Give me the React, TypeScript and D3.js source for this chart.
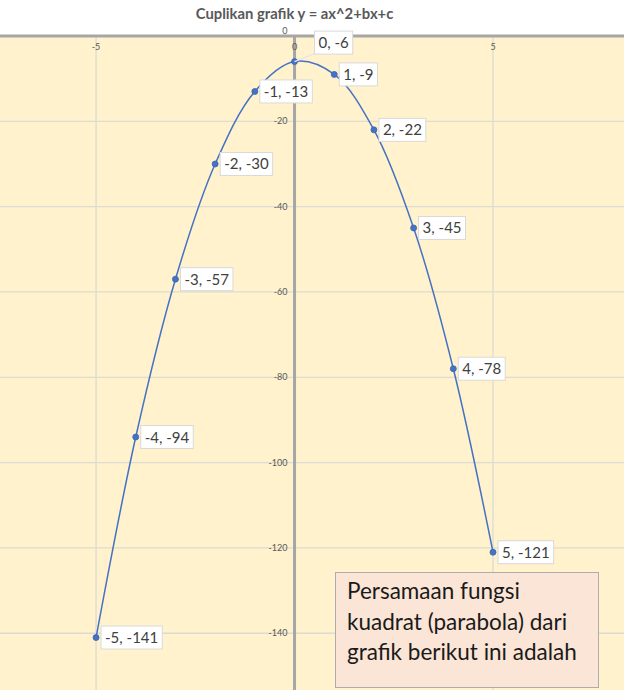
import React, { useEffect, useRef } from "react";
import * as d3 from "d3";

const TITLE = "Cuplikan grafik y = ax^2+bx+c";
const xValues = [-5, -4, -3, -2, -1, 0, 1, 2, 3, 4, 5];
const yValues = [-141, -94, -57, -30, -13, -6, -9, -22, -45, -78, -121];
const xTicks = [-5, 0, 5];
const yTicks = [0, -20, -40, -60, -80, -100, -120, -140];
const noteLines = ["Persamaan fungsi", "kuadrat (parabola) dari", "grafik berikut ini adalah"];

const W = 624;
const H = 690;
const FONT = "Lato, Carlito, 'Open Sans', sans-serif";

export default function App() {
  const ref = useRef<SVGSVGElement | null>(null);

  useEffect(() => {
    const svg = d3.select(ref.current);
    svg.selectAll("*").remove();

    const x = d3.scaleLinear().domain([-7.42, 8.3]).range([0, W]);
    const y = d3.scaleLinear().domain([0, -153.3]).range([36, H]);

    svg.append("rect").attr("x", 0).attr("y", 0).attr("width", W).attr("height", H).attr("fill", "#ffffff");
    svg.append("rect").attr("x", 0).attr("y", y(0)).attr("width", W).attr("height", H - y(0)).attr("fill", "#FFF2CC");

    // gridlines
    const g = svg.append("g");
    yTicks.filter((t) => t !== 0).forEach((t) => {
      g.append("line").attr("x1", 0).attr("x2", W).attr("y1", y(t)).attr("y2", y(t))
        .attr("stroke", "#DCDCD4").attr("stroke-width", 1.3);
    });
    xTicks.filter((t) => t !== 0).forEach((t) => {
      g.append("line").attr("x1", x(t)).attr("x2", x(t)).attr("y1", y(0)).attr("y2", H)
        .attr("stroke", "#DCDCD4").attr("stroke-width", 1.3);
    });

    // axes
    svg.append("line").attr("x1", 0).attr("x2", W).attr("y1", y(0)).attr("y2", y(0))
      .attr("stroke", "#A6A6A6").attr("stroke-width", 3);
    svg.append("line").attr("x1", x(0)).attr("x2", x(0)).attr("y1", y(0)).attr("y2", H)
      .attr("stroke", "#A6A6A6").attr("stroke-width", 3);

    // tick labels
    xTicks.forEach((t) => {
      svg.append("text").attr("x", x(t)).attr("y", y(0) + 14).attr("text-anchor", "middle")
        .attr("font-family", FONT).attr("font-size", 9).attr("fill", "#595959").text(String(t));
    });
    yTicks.forEach((t) => {
      svg.append("text").attr("x", x(0) - 7).attr("y", t === 0 ? y(t) - 2 : y(t) + 3)
        .attr("text-anchor", "end")
        .attr("font-family", FONT).attr("font-size", 9).attr("fill", "#595959").text(String(t));
    });

    // title
    svg.append("text").attr("x", x(0)).attr("y", 19).attr("text-anchor", "middle")
      .attr("font-family", FONT).attr("font-weight", 700).attr("font-size", 14.8)
      .attr("fill", "#595959").text(TITLE);

    const data = xValues.map((v, i) => ({ x: v, y: yValues[i] }));

    const line = d3.line<{ x: number; y: number }>()
      .x((d) => x(d.x)).y((d) => y(d.y))
      .curve(d3.curveCatmullRom.alpha(0.5));
    svg.append("path").attr("d", line(data) || "").attr("fill", "none")
      .attr("stroke", "#4472C4").attr("stroke-width", 1.5);

    svg.selectAll("circle.pt").data(data).enter().append("circle")
      .attr("cx", (d) => x(d.x)).attr("cy", (d) => y(d.y)).attr("r", 3)
      .attr("fill", "#4472C4").attr("stroke", "#3A66B5").attr("stroke-width", 0.8);

    // data labels
    data.forEach((d) => {
      const px = x(d.x);
      const py = y(d.y);
      const special = d.x === 0;
      const bx = special ? px + 20 : px + 5;
      const cy = special ? py - 19 : py;
      const lg = svg.append("g");
      const txt = lg.append("text").attr("x", bx + 4).attr("y", cy + 5.5)
        .attr("font-family", FONT).attr("font-size", 15).attr("fill", "#404040")
        .text(`${d.x}, ${d.y}`);
      const tw = (txt.node() as SVGTextElement).getComputedTextLength();
      if (special) {
        lg.insert("line", "text").attr("x1", px).attr("y1", py).attr("x2", bx).attr("y2", cy + 11)
          .attr("stroke", "#E6E6E6").attr("stroke-width", 1.5);
      }
      lg.insert("rect", "text").attr("x", bx).attr("y", cy - 11.5).attr("width", tw + 8).attr("height", 23)
        .attr("fill", "#ffffff").attr("stroke", "#D9D9D9").attr("stroke-width", 1);
    });

    // note box
    svg.append("rect").attr("x", 335.5).attr("y", 572.5).attr("width", 263).attr("height", 115)
      .attr("fill", "#FBE5D6").attr("stroke", "#ADADAD").attr("stroke-width", 1);
    noteLines.forEach((s, i) => {
      svg.append("text").attr("x", 347).attr("y", 599 + i * 30.5)
        .attr("font-family", FONT).attr("font-size", 22.5).attr("fill", "#1a1a1a").text(s);
    });
  }, []);

  return (
    <svg ref={ref} width={W} height={H} style={{ position: "absolute", left: 0, top: 0 }} />
  );
}
